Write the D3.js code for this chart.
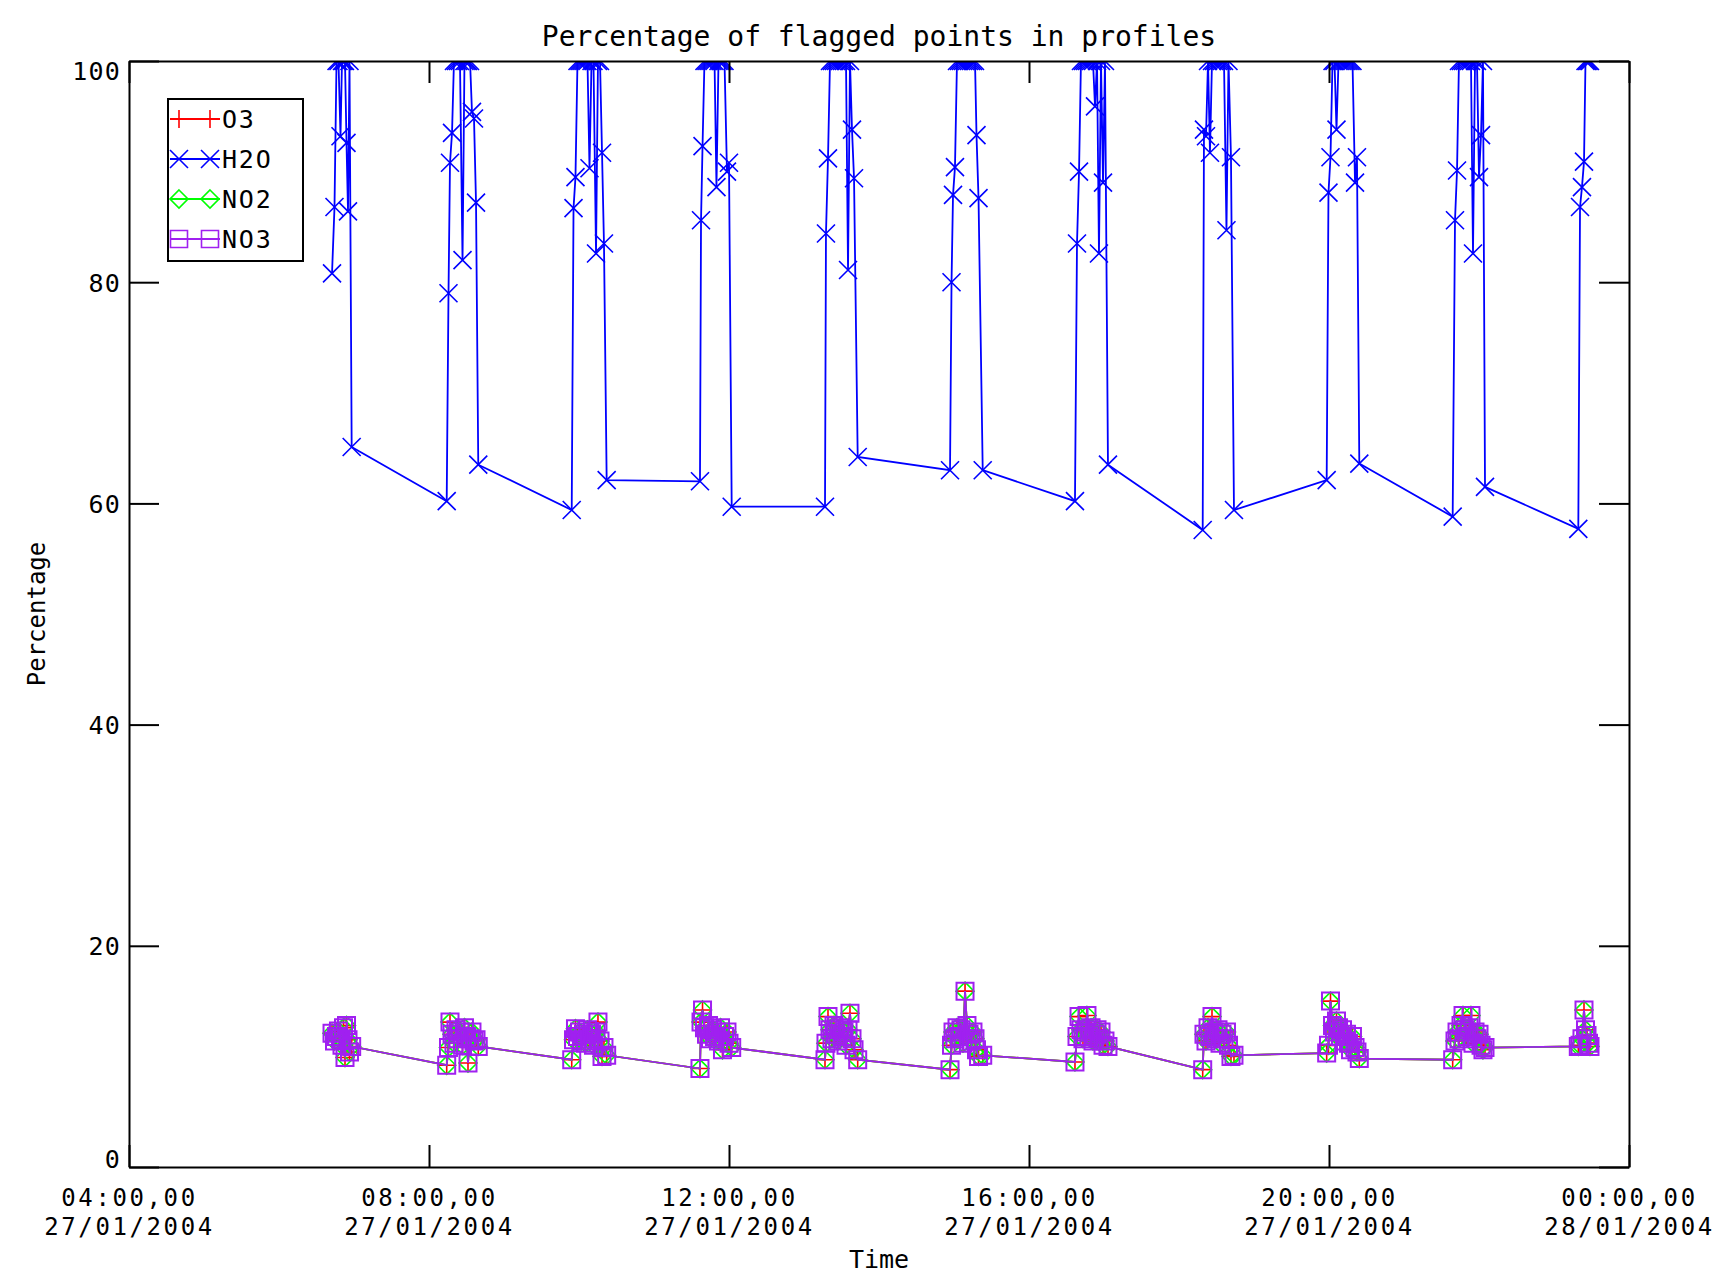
<!DOCTYPE html>
<html>
<head>
<meta charset="utf-8">
<script src="https://cdn.jsdelivr.net/npm/d3@7"></script>
<style>
  body { margin: 0; background: #fff; }
  text { font-family: "DejaVu Sans Mono", monospace; fill: #000; }
  .axis path, .axis line { stroke: #000; stroke-width: 2; }
</style>
</head>
<body>
<script>
// profile times, hours after 00:00 27/01/2004 (one row per orbit)
var profileHours = [
  6.707, 6.740, 6.767, 6.793, 6.820, 6.840, 6.860, 6.880, 6.900, 6.920, 6.940, 6.969,
  8.236, 8.260, 8.280, 8.307, 8.333, 8.360, 8.387, 8.413, 8.447, 8.473, 8.500, 8.520, 8.547, 8.573, 8.600, 8.627, 8.657,
  9.903, 9.927, 9.953, 9.980, 10.007, 10.033, 10.060, 10.087, 10.113, 10.140, 10.167, 10.193, 10.227, 10.253, 10.280, 10.307, 10.333, 10.369,
  11.613, 11.627, 11.647, 11.673, 11.700, 11.727, 11.753, 11.780, 11.807, 11.833, 11.860, 11.887, 11.913, 11.940, 11.973, 12.000, 12.036,
  13.280, 13.293, 13.320, 13.347, 13.373, 13.400, 13.427, 13.453, 13.480, 13.507, 13.533, 13.560, 13.587, 13.613, 13.640, 13.667, 13.716,
  14.947, 14.967, 14.987, 15.013, 15.040, 15.067, 15.093, 15.120, 15.147, 15.173, 15.200, 15.227, 15.253, 15.280, 15.300, 15.327, 15.383,
  16.613, 16.640, 16.667, 16.693, 16.720, 16.747, 16.773, 16.800, 16.827, 16.853, 16.880, 16.907, 16.933, 16.960, 16.987, 17.013, 17.053,
  18.316, 18.333, 18.360, 18.387, 18.413, 18.440, 18.467, 18.493, 18.520, 18.547, 18.573, 18.600, 18.633, 18.660, 18.693, 18.733,
  19.969, 19.993, 20.020, 20.047, 20.073, 20.100, 20.127, 20.153, 20.180, 20.207, 20.233, 20.260, 20.287, 20.313, 20.347, 20.373, 20.404,
  21.649, 21.680, 21.707, 21.733, 21.760, 21.787, 21.813, 21.840, 21.867, 21.893, 21.920, 21.947, 21.973, 22.000, 22.027, 22.053, 22.080,
  23.324, 23.347, 23.373, 23.400, 23.420, 23.440, 23.460, 23.480
];

var h2oPct = [
  80.8, 86.8, 100, 100, 93.2, 100, 100, 100, 92.6, 86.4, 100, 65.1,
  60.2, 79.0, 90.8, 93.5, 100, 100, 100, 100, 82.0, 100, 100, 100, 100, 95.4, 94.8, 87.2, 63.5,
  59.4, 86.7, 89.5, 100, 100, 100, 100, 100, 100, 90.3, 100, 100, 82.6, 100, 100, 91.7, 83.5, 62.1,
  62.0, 85.6, 92.3, 100, 100, 100, 100, 100, 100, 88.6, 100, 100, 100, 100, 90.0, 90.8, 59.7,
  59.7, 84.4, 91.2, 100, 100, 100, 100, 100, 100, 100, 100, 100, 81.1, 100, 93.8, 89.4, 64.2,
  63.0, 80.0, 87.9, 90.4, 100, 100, 100, 100, 100, 100, 100, 100, 100, 100, 93.3, 87.6, 63.0,
  60.2, 83.5, 90.0, 100, 100, 100, 100, 100, 100, 100, 95.9, 100, 82.6, 100, 89.0, 100, 63.5,
  57.6, 93.8, 93.2, 100, 91.7, 100, 100, 100, 100, 100, 100, 100, 84.7, 100, 91.3, 59.4,
  62.1, 88.1, 91.3, 100, 100, 93.8, 100, 100, 100, 100, 100, 100, 100, 100, 89.0, 91.3, 63.6,
  58.8, 85.6, 90.1, 100, 100, 100, 100, 100, 100, 100, 82.6, 100, 100, 89.5, 93.3, 100, 61.5,
  57.7, 86.8, 88.6, 90.9, 100, 100, 100, 100
];

// O3, NO2 and NO3 sit on top of each other in the picture
var tracePct = [
  12.1, 11.4, 11.8, 12.3, 11.6, 11.0, 12.6, 9.9, 12.8, 11.5, 10.4, 10.9,
  9.2, 10.8, 13.1, 12.0, 11.2, 12.4, 11.6, 12.2, 11.0, 12.6, 11.8, 9.4, 11.6, 12.2, 11.4, 11.5, 10.9,
  9.7, 11.5, 12.5, 11.8, 12.2, 11.4, 12.0, 11.2, 12.4, 11.6, 12.0, 11.0, 12.2, 13.1, 11.4, 10.0, 10.8, 10.1,
  8.9, 13.1, 14.2, 12.6, 12.0, 12.8, 11.6, 12.4, 11.8, 12.2, 11.4, 12.6, 10.6, 11.8, 12.2, 11.2, 10.8,
  9.7, 11.2, 13.6, 12.4, 11.6, 12.8, 12.0, 11.4, 12.6, 11.8, 12.2, 11.0, 12.4, 13.9, 11.6, 10.6, 9.7,
  8.8, 11.0, 12.2, 11.6, 12.6, 11.8, 12.4, 11.2, 15.9, 12.8, 12.0, 11.4, 12.2, 11.6, 10.6, 10.0, 10.1,
  9.5, 11.8, 13.6, 12.4, 11.6, 12.2, 13.7, 11.8, 12.6, 11.4, 12.0, 12.4, 11.6, 12.2, 11.0, 11.4, 10.9,
  8.8, 12.0, 11.4, 12.6, 11.8, 13.6, 12.2, 11.6, 12.4, 11.2, 12.0, 11.6, 12.2, 11.0, 10.0, 10.1,
  10.3, 11.0, 15.0, 12.8, 12.2, 13.2, 12.6, 11.8, 12.4, 11.4, 12.0, 11.2, 10.6, 11.8, 10.8, 10.4, 9.8,
  9.7, 11.4, 12.2, 11.6, 12.8, 13.7, 12.4, 11.8, 12.6, 13.7, 11.2, 12.2, 11.6, 12.0, 11.0, 10.6, 10.8,
  10.9, 11.0, 11.6, 14.2, 12.4, 11.9, 11.2, 10.9
];
var o3Pct = tracePct, no2Pct = tracePct, no3Pct = tracePct;

var seriesNames = ["O3", "H2O", "NO2", "NO3"];
var seriesColors = ["#ff0000", "#0000ff", "#00ff00", "#a020f0"];

var xTickHours = [4, 8, 12, 16, 20, 24];
var xTickTime = ["04:00,00", "08:00,00", "12:00,00", "16:00,00", "20:00,00", "00:00,00"];
var xTickDate = ["27/01/2004", "27/01/2004", "27/01/2004", "27/01/2004", "27/01/2004", "28/01/2004"];
var yTicks = [0, 20, 40, 60, 80, 100];

var day0 = Date.UTC(2004, 0, 27);
function toDate(h) { return new Date(day0 + h * 3600000); }

var marginLeft = 129, marginTop = 61;
var width = 1500, height = 1106;

var svg = d3.select('body').append('svg')
  .attr('width', 1732)
  .attr('height', 1281);

var x = d3.scaleUtc()
  .domain([toDate(4), toDate(24)])
  .range([0, width]);
var y = d3.scaleLinear()
  .domain([0, 100])
  .range([height, 0]);

var chart = svg.append('g').attr('transform', 'translate(' + marginLeft + ',' + marginTop + ')');

svg.append('defs').append('clipPath').attr('id', 'plotclip')
  .append('rect').attr('width', width).attr('height', height);

// marker shapes, IDL style
var markers = [
  "M-9,0H9M0,-9V9",
  "M-9,-9L9,9M-9,9L9,-9",
  "M0,-9L9,0L0,9L-9,0Z",
  "M-8.5,-8.5H8.5V8.5H-8.5Z"
];

var seriesVals = [o3Pct, h2oPct, no2Pct, no3Pct];
var data = seriesVals.map(function(vals) {
  return vals.map(function(v, i) { return {t: toDate(profileHours[i]), v: v}; });
});

var line = d3.line()
  .x(function(d) { return x(d.t); })
  .y(function(d) { return y(d.v); });

var plot = chart.append('g').attr('clip-path', 'url(#plotclip)');

data.forEach(function(d, k) {
  plot.append('path')
    .attr('d', line(d))
    .attr('fill', 'none')
    .attr('stroke', seriesColors[k])
    .attr('stroke-width', 1.8);
  plot.selectAll('.mk' + k)
    .data(d)
    .enter()
    .append('path')
      .attr('class', 'mk' + k)
      .attr('d', markers[k])
      .attr('transform', function(p) { return 'translate(' + x(p.t) + ',' + y(p.v) + ')'; })
      .attr('fill', 'none')
      .attr('stroke', seriesColors[k])
      .attr('stroke-width', k === 3 ? 2 : 1.6);
});

// axes on all four sides, ticks pointing in
var tickDates = xTickHours.map(toDate);
var xb = chart.append('g').attr('class', 'axis').attr('transform', 'translate(0,' + height + ')')
  .call(d3.axisBottom(x).tickValues(tickDates).tickSizeInner(-22).tickSizeOuter(0).tickFormat(''));
xb.selectAll('.tick text').remove();
xb.selectAll('.tick').each(function(d, i) {
  var tick = d3.select(this);
  tick.append('text')
    .attr('x', 0).attr('y', 39)
    .attr('text-anchor', 'middle')
    .style('font-size', '24px')
    .style('letter-spacing', '2.6px')
    .text(xTickTime[i]);
  tick.append('text')
    .attr('x', 0).attr('y', 68)
    .attr('text-anchor', 'middle')
    .style('font-size', '24px')
    .style('letter-spacing', '2.6px')
    .text(xTickDate[i]);
});

var xt = chart.append('g').attr('class', 'axis')
  .call(d3.axisTop(x).tickValues(tickDates).tickSizeInner(-22).tickSizeOuter(0).tickFormat(''));
xt.selectAll('.tick text').remove();

var yl = chart.append('g').attr('class', 'axis')
  .call(d3.axisLeft(y).tickValues(yTicks).tickSizeInner(-30).tickSizeOuter(0).tickPadding(8));
yl.selectAll('.tick text')
  .style('font-size', '25px')
  .style('letter-spacing', '1.2px')
  .attr('fill', '#000')
  .attr('dy', function(d) { return d === 0 ? '0em' : (d === 100 ? '0.74em' : '0.36em'); });

var yr = chart.append('g').attr('class', 'axis').attr('transform', 'translate(' + width + ',0)')
  .call(d3.axisRight(y).tickValues(yTicks).tickSizeInner(-30).tickSizeOuter(0).tickFormat(''));
yr.selectAll('.tick text').remove();

// titles
svg.append('text')
  .attr('x', marginLeft + width / 2).attr('y', 46)
  .attr('text-anchor', 'middle')
  .style('font-size', '28px')
  .text('Percentage of flagged points in profiles');
svg.append('text')
  .attr('x', marginLeft + width / 2).attr('y', 1268)
  .attr('text-anchor', 'middle')
  .style('font-size', '25px')
  .text('Time');
svg.append('text')
  .attr('transform', 'translate(45,614) rotate(-90)')
  .attr('text-anchor', 'middle')
  .style('font-size', '24px')
  .text('Percentage');

// legend
var legend = svg.append('g').attr('transform', 'translate(168,99)');
legend.append('rect')
  .attr('width', 135).attr('height', 162)
  .attr('fill', '#fff').attr('stroke', '#000').attr('stroke-width', 2);
seriesNames.forEach(function(name, k) {
  var row = legend.append('g').attr('transform', 'translate(0,' + (20 + k * 40) + ')');
  row.append('line')
    .attr('x1', 2).attr('x2', 52).attr('y1', 0).attr('y2', 0)
    .attr('stroke', seriesColors[k]).attr('stroke-width', 1.8);
  [11, 42].forEach(function(mx) {
    row.append('path')
      .attr('d', markers[k])
      .attr('transform', 'translate(' + mx + ',0)')
      .attr('fill', 'none')
      .attr('stroke', seriesColors[k])
      .attr('stroke-width', 1.6);
  });
  row.append('text')
    .attr('x', 54).attr('y', 9)
    .style('font-size', '25px')
    .style('letter-spacing', '1.8px')
    .text(name);
});
</script>
</body>
</html>
